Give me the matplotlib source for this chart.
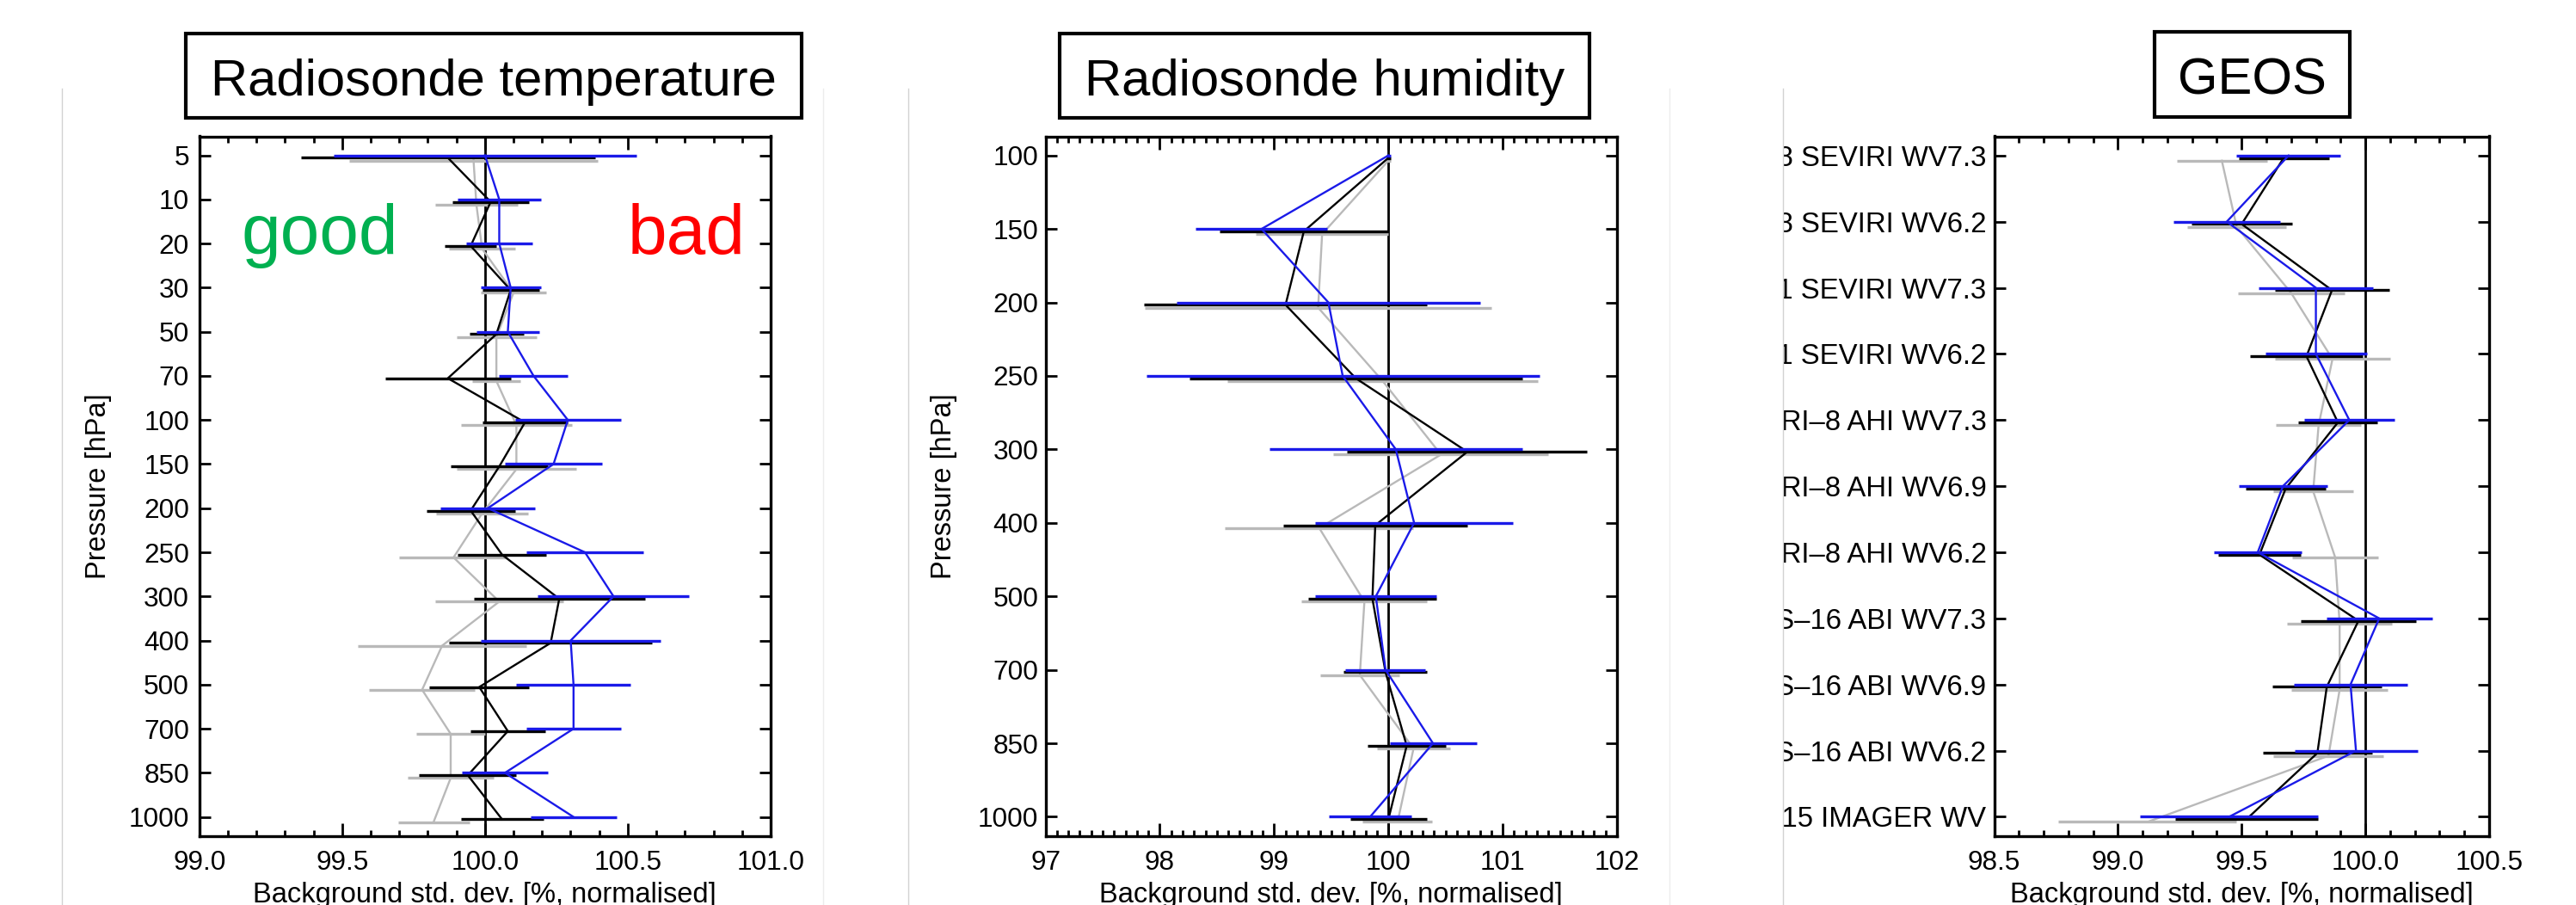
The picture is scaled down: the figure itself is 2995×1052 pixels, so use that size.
import numpy as np
import matplotlib
matplotlib.use('Agg')
import matplotlib.pyplot as plt
from matplotlib.patches import Rectangle
from matplotlib.lines import Line2D
from matplotlib.ticker import MultipleLocator, FormatStrFormatter
from matplotlib.transforms import offset_copy, Bbox, TransformedBbox

plt.rcParams['font.family'] = ['Liberation Sans', 'DejaVu Sans']

W, H = 2995, 1052

# --- Radiosonde temperature -------------------------------------------
t_levels = ['5', '10', '20', '30', '50', '70', '100', '150', '200', '250',
            '300', '400', '500', '700', '850', '1000']
t_blue = [100.00, 100.05, 100.05, 100.09, 100.08, 100.17, 100.29, 100.24,
          100.01, 100.35, 100.45, 100.30, 100.31, 100.31, 100.07, 100.31]
t_blue_err = [0.53, 0.145, 0.115, 0.105, 0.11, 0.12, 0.185, 0.17,
              0.165, 0.205, 0.265, 0.315, 0.20, 0.165, 0.15, 0.15]
t_black = [99.87, 100.02, 99.95, 100.09, 100.04, 99.87, 100.14, 100.05,
           99.95, 100.06, 100.26, 100.23, 99.98, 100.08, 99.94, 100.06]
t_black_err = [0.515, 0.135, 0.09, 0.10, 0.095, 0.22, 0.15, 0.17,
               0.155, 0.155, 0.30, 0.355, 0.175, 0.13, 0.17, 0.145]
t_gray = [99.96, 99.97, 99.99, 100.10, 100.04, 100.04, 100.11, 100.11,
          99.99, 99.89, 100.05, 99.85, 99.78, 99.88, 99.88, 99.82]
t_gray_err = [0.435, 0.145, 0.115, 0.115, 0.14, 0.085, 0.195, 0.21,
              0.16, 0.19, 0.225, 0.295, 0.185, 0.12, 0.15, 0.125]

# --- Radiosonde humidity ----------------------------------------------
q_levels = ['100', '150', '200', '250', '300', '400', '500', '700', '850', '1000']
q_blue = [100.0, 98.89, 99.475, 99.60, 100.065, 100.225, 99.89, 99.975, 100.39, 99.84]
q_blue_err = [0.02, 0.575, 1.325, 1.72, 1.105, 0.865, 0.53, 0.35, 0.38, 0.36]
q_black = [100.0, 99.26, 99.10, 99.715, 100.69, 99.885, 99.86, 99.975, 100.16, 100.0]
q_black_err = [0.02, 0.735, 1.24, 1.455, 1.05, 0.805, 0.56, 0.365, 0.345, 0.335]
q_gray = [100.0, 99.42, 99.385, 99.95, 100.46, 99.395, 99.79, 99.75, 100.22, 100.08]
q_gray_err = [0.02, 0.58, 1.515, 1.36, 0.94, 0.825, 0.55, 0.345, 0.32, 0.305]

# --- GEOS radiances ---------------------------------------------------
g_labels = ['Meteosat\u20138 SEVIRI WV7.3', 'Meteosat\u20138 SEVIRI WV6.2',
            'Meteosat\u201311 SEVIRI WV7.3', 'Meteosat\u201311 SEVIRI WV6.2',
            'HIMAWARI\u20138 AHI WV7.3', 'HIMAWARI\u20138 AHI WV6.9',
            'HIMAWARI\u20138 AHI WV6.2', 'GOES\u201316 ABI WV7.3',
            'GOES\u201316 ABI WV6.9', 'GOES\u201316 ABI WV6.2',
            'GOES\u201315 IMAGER WV']
g_blue = [99.69, 99.44, 99.80, 99.80, 99.935, 99.667, 99.565, 100.056, 99.94, 99.962, 99.45]
g_blue_err = [0.21, 0.217, 0.231, 0.205, 0.183, 0.178, 0.178, 0.214, 0.23, 0.248, 0.36]
g_black = [99.67, 99.50, 99.865, 99.762, 99.889, 99.678, 99.572, 99.972, 99.844, 99.806, 99.52]
g_black_err = [0.182, 0.204, 0.231, 0.228, 0.159, 0.163, 0.167, 0.234, 0.22, 0.22, 0.29]
g_gray = [99.42, 99.48, 99.70, 99.867, 99.811, 99.789, 99.878, 99.896, 99.896, 99.851, 99.12]
g_gray_err = [0.183, 0.20, 0.215, 0.232, 0.172, 0.161, 0.175, 0.211, 0.195, 0.222, 0.36]

fig = plt.figure(figsize=(W / 100, H / 100), dpi=100)

ax_bottom, ax_top = 971.7, 158.5


def rect(x0, x1):
    return [x0 / W, 1 - ax_bottom / H, (x1 - x0) / W, (ax_bottom - ax_top) / H]


def panel(r, labels, blue, blue_err, black, black_err, gray, gray_err,
          xlim, major, fmt, ypad, tickpad, ysize):
    ax = fig.add_axes(r)
    idx = np.arange(len(labels))
    ax.axvline(100, color='black', lw=2.0, zorder=1)
    # each series is nudged down a few pixels like in the original plot
    series = [(gray, gray_err, '#b9b9b9', 6.0, 2),
              (black, black_err, 'black', 2.8, 3),
              (blue, blue_err, '#1a1ae8', 0.0, 4)]
    for mean, err, col, dy, z in series:
        mean = np.array(mean)
        err = np.array(err)
        tr = offset_copy(ax.transData, fig=fig, x=0, y=-dy, units='dots')
        ax.plot(mean, idx, color=col, lw=1.7, transform=tr, zorder=z)
        ax.hlines(idx, mean - err, mean + err, colors=col, lw=2.4,
                  transform=tr, zorder=z)
    ax.set_xlim(*xlim)
    ax.set_ylim(len(labels) - 1 + ypad, -ypad)
    ax.set_yticks(idx)
    ax.set_yticklabels(labels)
    ax.xaxis.set_major_locator(MultipleLocator(major))
    ax.xaxis.set_minor_locator(MultipleLocator(0.1))
    ax.xaxis.set_major_formatter(FormatStrFormatter(fmt))
    ax.tick_params(which='both', direction='in', top=True, right=True,
                   width=2.0, labelsize=22.7, color='black')
    ax.tick_params(axis='x', which='major', length=10.5, pad=12)
    ax.tick_params(axis='x', which='minor', length=5.2)
    ax.tick_params(axis='y', which='major', length=9.5, pad=tickpad,
                   labelsize=ysize)
    for s in ax.spines.values():
        s.set_linewidth(2.4)
    ax.set_xlabel('Background std. dev. [%, normalised]', fontsize=23.5)
    ax.xaxis.set_label_coords(0.5, -0.066)
    return ax


ax1 = panel(rect(231.7, 896.0), t_levels, t_blue, t_blue_err, t_black, t_black_err,
            t_gray, t_gray_err, (99.0, 101.0), 0.5, '%.1f', 0.43, 8.5, 22.7)
ax1.set_ylabel('Pressure [hPa]', fontsize=23.5)
ax1.yaxis.set_label_coords(-0.153, 0.5)
ax1.text(99.147, 2.23, 'good', color='#00b050', fontsize=59, va='baseline', ha='left')
ax1.text(100.913, 2.23, 'bad', color='#ff0000', fontsize=59, va='baseline', ha='right')

ax2 = panel(rect(1215.6, 1880.0), q_levels, q_blue, q_blue_err, q_black, q_black_err,
            q_gray, q_gray_err, (97, 102), 1, '%d', 0.26, 6, 22.7)
ax2.set_ylabel('Pressure [hPa]', fontsize=23.5)
ax2.yaxis.set_label_coords(-0.154, 0.5)

ax3 = panel(rect(2318.5, 2894.0), g_labels, g_blue, g_blue_err, g_black, g_black_err,
            g_gray, g_gray_err, (98.5, 100.5), 0.5, '%.1f', 0.29, 6.5, 23.7)
# the long channel names are cut at the edge of the original image
clip = TransformedBbox(Bbox([[2073 / W, 0], [1, 1]]), fig.transFigure)
for lab in ax3.get_yticklabels():
    lab.set_clip_box(clip)
    lab.set_clip_on(True)

# title boxes
titles = ['Radiosonde temperature', 'Radiosonde humidity', 'GEOS']
boxes = [(215.6, 932.4, 39, 137), (1231.5, 1848.2, 39, 137), (2505, 2732, 37, 135.5)]
for t, (x0, x1, y0, y1) in zip(titles, boxes):
    fig.patches.append(Rectangle((x0 / W, 1 - y1 / H), (x1 - x0) / W, (y1 - y0) / H,
                                 transform=fig.transFigure, fill=False,
                                 edgecolor='black', lw=3.0))
    fig.text((x0 + x1) / 2 / W, 1 - (y0 + 72) / H, t, fontsize=43,
             ha='center', va='baseline')

# faint edges of the pasted sub-images
for x, c in [(72, '#d2d2d2'), (1056, '#d2d2d2'), (2073, '#d2d2d2'),
             (957, '#ececec'), (1941, '#ececec')]:
    fig.add_artist(Line2D([x / W, x / W], [0, 1 - 103 / H], transform=fig.transFigure,
                          color=c, lw=1.0))

fig.savefig('out.png', dpi=100)
